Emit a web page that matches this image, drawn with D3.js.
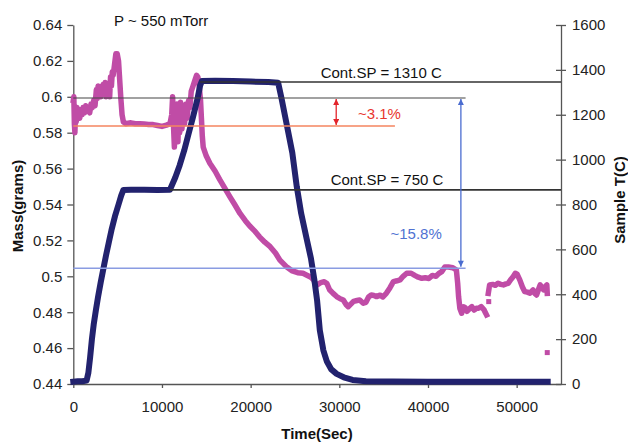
<!DOCTYPE html>
<html>
<head>
<meta charset="utf-8">
<script src="https://cdn.jsdelivr.net/npm/d3@7"></script>
<style>
  body { margin: 0; background: #fff; }
  svg { display: block; font-family: "Liberation Sans", Arial, sans-serif; }
  .axis path, .axis line { stroke: #555; stroke-width: 1.3; }
  .axis text { font-size: 15px; fill: #222; }
  .title { font-weight: bold; font-size: 15px; fill: #111; }
  .note { font-size: 15px; }
</style>
</head>
<body>
<div id="viz"></div>
<script>
// tick labels
const timeTicks = [0, 10000, 20000, 30000, 40000, 50000];
const massTicks = [0.44, 0.46, 0.48, 0.5, 0.52, 0.54, 0.56, 0.58, 0.6, 0.62, 0.64];
const tempTicks = [0, 200, 400, 600, 800, 1000, 1200, 1400, 1600];

// mass series (left axis), null = gap in the record
const massTime = [0, 60, 120, 180, 250, 330, 420, 520, 620, 720, 850, 980, 1100, 1250, 1400, 1550, 1700, 1850,
  2000, 2150, 2300, 2450, 2600, 2700, 2800, 2900, 3000, 3100, 3200, 3300, 3400, 3500, 3600, 3700, 3800, 3900,
  4000, 4100, 4200, 4300, 4400, 4500, 4650, 4800, 4950, 5100, 5200, 5350, 5500, 5650, 5900, 6500, 7000, 7500,
  8000, 8500, 9000, 9500, 10000, 10500, 10900, 11100, 11200, 11300, 11400, 11500, 11600, 11700, 11800, 11900,
  12000, 12100, 12250, 12400, 12550, 12700, 12850, 13000, 13150, 13300, 13500, 13700, 13900, 14050, 14200,
  14350, 14450, 14550, 14650, 15000, 15400, 16000, 16500, 17100, 17700, 18200, 18800, 19400, 19900, 20500,
  21000, 21600, 22200, 22800, 23300, 24000, 24700, 25300, 25900, 26400, 26800, 27100, 27400, 27900, 28300,
  28600, 28900, 29300, 29700, 30100, 30450, 30800, 31000, 31300, 31600, 32000, 32300, 32700, 33000, 33300,
  33600, 33900, 34200, 34600, 34900, 35300, 35700, 36100, 36500, 36850, 37200, 37600, 38100, 38500, 38900,
  39300, 39700, 40100, 40500, 40900, 41200, 41550, 41900, 42300, 42800, 43200, 43350, 43450, 43600, 43800,
  44000, 44200, 44400, 44700, 44950, 45200, 45450, 45700, 46000, 46300, 46450, 46600, 46700,
  46800, 46950, 47300, 47600, 47900, 48200, 48500, 48800, 49050, 49300, 49600, 49850, 50050, 50350, 50650,
  50900, 51200, 51500, 51850, 52050, 52250, 52450, 52650, 52850, 53050, 53250, 53400, 53450];
const massVal = [0.598, 0.600, 0.585, 0.580, 0.592, 0.586, 0.594, 0.589, 0.593, 0.588, 0.592, 0.590, 0.594, 0.591,
  0.595, 0.592, 0.594, 0.591, 0.596, 0.594, 0.598, 0.595, 0.604, 0.599, 0.606, 0.601, 0.605, 0.600, 0.606,
  0.602, 0.607, 0.603, 0.608, 0.600, 0.605, 0.602, 0.607, 0.600, 0.611, 0.606, 0.614, 0.612, 0.618, 0.624,
  0.624, 0.620, 0.612, 0.600, 0.590, 0.586, 0.585, 0.5855, 0.585, 0.585, 0.5848, 0.5846, 0.5845, 0.584,
  0.5835, 0.5842, 0.585, 0.590, 0.600, 0.584, 0.572, 0.590, 0.578, 0.596, 0.575, 0.592, 0.580, 0.597, 0.582,
  0.594, 0.585, 0.596, 0.588, 0.598, 0.594, 0.603, 0.606, 0.609, 0.612, 0.611, 0.606, 0.598, 0.588, 0.578,
  0.572, 0.567, 0.563, 0.5585, 0.554, 0.549, 0.544, 0.540, 0.535, 0.531, 0.528, 0.525, 0.522, 0.519, 0.5165,
  0.513, 0.509, 0.5055, 0.503, 0.502, 0.5017, 0.5005, 0.4995, 0.498, 0.495, 0.4965, 0.497, 0.496, 0.4925,
  0.4905, 0.4887, 0.4875, 0.4868, 0.484, 0.4831, 0.4845, 0.486, 0.4865, 0.4868, 0.485, 0.4855, 0.4885,
  0.4896, 0.4893, 0.4887, 0.4895, 0.4885, 0.4905, 0.4935, 0.497, 0.4975, 0.498, 0.500, 0.5017, 0.5017,
  0.5005, 0.4995, 0.4989, 0.4992, 0.4988, 0.5005, 0.500, 0.5015, 0.5026, 0.5052, 0.5052, 0.5048, 0.5035,
  0.496, 0.4887, 0.482, 0.4794, 0.483, 0.4825, 0.4805, 0.482, 0.4831, 0.4812, 0.4822, 0.4822, 0.4831,
  0.4815, 0.480, 0.4785, null,
  0.4905, 0.4952, 0.4955, 0.495, 0.4961, 0.4955, 0.4952, 0.4958, 0.4961, 0.498, 0.4998, 0.5017, 0.5012,
  0.498, 0.494, 0.4915, 0.4912, 0.4906, 0.4924, 0.4905, 0.4896, 0.4925, 0.4952, 0.4935, 0.4924, 0.4945,
  0.4952, 0.4905];
const strayTime = [46850, 53450];
const strayVal = [0.4859, 0.4575];

// sample temperature series (right axis)
const tempTime = [0, 500, 1000, 1500, 1700, 1900, 2100, 2300, 2550, 2800, 3100, 3400, 3700, 4000, 4300, 4700,
  5100, 5400, 5650, 6500, 8000, 9500, 10900, 11500, 12000, 12500, 13000, 13500, 14000, 14300, 14500, 16000,
  18000, 20000, 22000, 23100, 23500, 23900, 24300, 24700, 25200, 25700, 26300, 26800, 27200, 27500, 27800,
  28200, 28600, 29100, 29700, 30500, 31500, 33000, 36000, 40000, 44000, 48000, 52000, 53500];
const tempVal = [10, 12, 12, 15, 50, 120, 200, 265, 330, 390, 455, 515, 575, 630, 685, 748,
  800, 840, 865, 866, 866, 865, 866, 920, 975, 1040, 1115, 1190, 1270, 1330, 1350, 1352,
  1350, 1348, 1346, 1343, 1270, 1190, 1110, 1030, 880, 760, 650, 560, 460, 370, 240,
  150, 100, 65, 45, 30, 18, 12, 11, 10, 10, 10, 10, 10];

// annotation values
const spHigh = 1346, spLow = 865;
const massTop = 0.5993, massOrange = 0.5837, massBlue = 0.5045;

const width = 628, height = 442;

const svg = d3.select("#viz").append("svg")
  .attr("width", width)
  .attr("height", height);

const x = d3.scaleLinear().domain([0, 55000]).range([73.3, 561]);
const yMass = d3.scaleLinear().domain([0.44, 0.64]).range([384, 25]);
const yTemp = d3.scaleLinear().domain([0, 1600]).range([384, 25]);

const defs = svg.append("defs");
[["arrRed", "#e3242b"], ["arrBlue", "#4a6cd0"]].forEach(([id, c]) => {
  defs.append("marker")
    .attr("id", id)
    .attr("viewBox", "0 0 10 10")
    .attr("refX", 10).attr("refY", 5)
    .attr("markerUnits", "userSpaceOnUse")
    .attr("markerWidth", 7).attr("markerHeight", 6)
    .attr("orient", "auto-start-reverse")
    .append("path").attr("d", "M0,0L10,5L0,10z").attr("fill", c);
});

// axes
svg.append("g").attr("class", "axis")
  .attr("transform", "translate(0,384)")
  .call(d3.axisBottom(x).tickValues(timeTicks).tickSize(4).tickSizeOuter(0).tickPadding(13).tickFormat(d3.format("d")));

svg.append("g").attr("class", "axis")
  .attr("transform", "translate(73.3,0)")
  .call(d3.axisLeft(yMass).tickValues(massTicks).tickSize(6).tickSizeOuter(0).tickPadding(5)
    .tickFormat(d => String(+d.toFixed(2))));

svg.append("g").attr("class", "axis")
  .attr("transform", "translate(561,0)")
  .call(d3.axisRight(yTemp).tickValues(tempTicks).tickSize(5).tickSizeOuter(0).tickPadding(6).tickFormat(d3.format("d")))
  .call(g => g.selectAll(".tick line").attr("x1", -5));

// series
const massPts = massTime.map((t, i) => [t, massVal[i]]);
const tempPts = tempTime.map((t, i) => [t, tempVal[i]]);

svg.append("path")
  .datum(massPts)
  .attr("fill", "none")
  .attr("stroke", "#c04ca6")
  .attr("stroke-width", 5.5)
  .attr("stroke-linejoin", "round")
  .attr("stroke-linecap", "square")
  .attr("d", d3.line().defined(d => d[1] != null).x(d => x(d[0])).y(d => yMass(d[1])));

svg.selectAll("rect.stray")
  .data(strayTime)
  .enter().append("rect")
  .attr("class", "stray")
  .attr("x", d => x(d) - 2.5)
  .attr("y", (d, i) => yMass(strayVal[i]) - 2.5)
  .attr("width", 5).attr("height", 5)
  .attr("fill", "#c04ca6");

svg.append("path")
  .datum(tempPts)
  .attr("fill", "none")
  .attr("stroke", "#22226e")
  .attr("stroke-width", 6)
  .attr("stroke-linejoin", "round")
  .attr("stroke-linecap", "square")
  .attr("d", d3.line().x(d => x(d[0])).y(d => yTemp(d[1])));

// annotation lines
const hline = (t0, t1, y, color, w) => svg.append("line")
  .attr("x1", x(t0)).attr("x2", x(t1)).attr("y1", y).attr("y2", y)
  .attr("stroke", color).attr("stroke-width", w);

hline(14300, 55000, yTemp(spHigh), "#333", 1.6);
hline(10900, 55000, yTemp(spLow), "#333", 1.6);
hline(0, 44240, yMass(massTop), "#444", 1.1);
hline(0, 36270, yMass(massOrange), "#f4845f", 1.6);
hline(0, 44240, yMass(massBlue), "#8a9ce2", 1.6);

svg.append("line")
  .attr("x1", x(29650)).attr("x2", x(29650))
  .attr("y1", yMass(massTop) + 1).attr("y2", yMass(massOrange) - 1)
  .attr("stroke", "#e3242b").attr("stroke-width", 1.3)
  .attr("marker-start", "url(#arrRed)").attr("marker-end", "url(#arrRed)");

svg.append("line")
  .attr("x1", x(43710)).attr("x2", x(43710))
  .attr("y1", yMass(massTop) + 1).attr("y2", yMass(massBlue) - 1.5)
  .attr("stroke", "#4a6cd0").attr("stroke-width", 1.3)
  .attr("marker-start", "url(#arrBlue)").attr("marker-end", "url(#arrBlue)");

// texts
svg.append("text").attr("class", "note").attr("x", 114).attr("y", 26).attr("fill", "#111").text("P ~ 550 mTorr");
svg.append("text").attr("class", "note").attr("x", 320.7).attr("y", yTemp(spHigh) - 4).attr("fill", "#111").text("Cont.SP = 1310 C");
svg.append("text").attr("class", "note").attr("x", 330.7).attr("y", yTemp(spLow) - 5).attr("fill", "#111").text("Cont.SP = 750 C");
svg.append("text").attr("class", "note").attr("x", 358).attr("y", 118.5).attr("fill", "#e8362e").text("~3.1%");
svg.append("text").attr("class", "note").attr("x", 390.5).attr("y", 239).attr("fill", "#5072d2").text("~15.8%");

svg.append("text").attr("class", "title")
  .attr("x", 317).attr("y", 439).attr("text-anchor", "middle").text("Time(Sec)");
svg.append("text").attr("class", "title")
  .attr("transform", "translate(23,206) rotate(-90)").attr("text-anchor", "middle").text("Mass(grams)");
svg.append("text").attr("class", "title")
  .attr("transform", "translate(625,200) rotate(-90)").attr("text-anchor", "middle").text("Sample T(C)");
</script>
</body>
</html>
